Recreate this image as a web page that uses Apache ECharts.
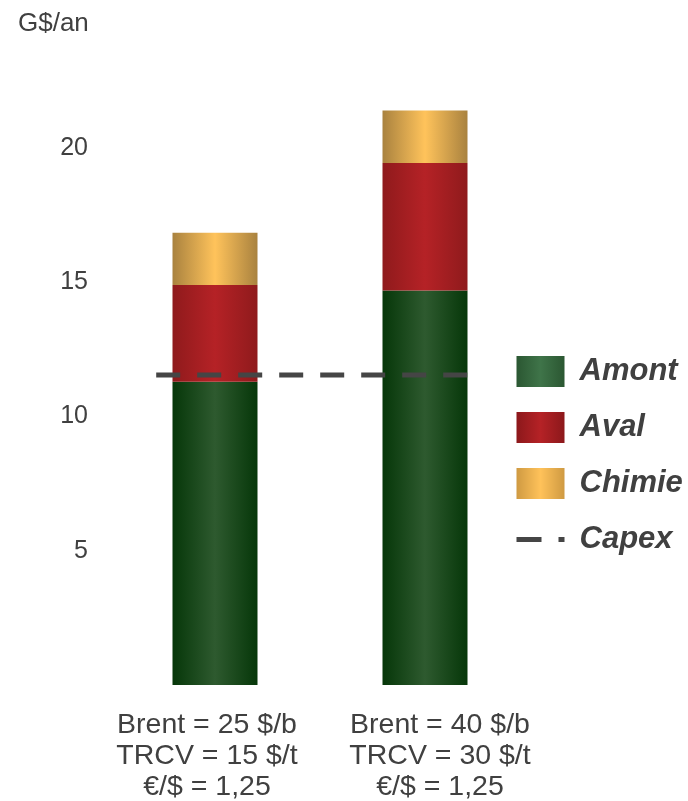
<!DOCTYPE html>
<html>
<head>
<meta charset="utf-8">
<script src="https://cdn.jsdelivr.net/npm/echarts@6/dist/echarts.min.js"></script>
<style>
  html, body { margin: 0; padding: 0; background: #fff; }
  #chart { width: 688px; height: 801px; }
</style>
</head>
<body>
<div id="chart"></div>
<script>
// données
var categories = ['Brent = 25 $/b\nTRCV = 15 $/t\n€/$ = 1,25', 'Brent = 40 $/b\nTRCV = 30 $/t\n€/$ = 1,25'];
var amont = [11.3, 14.7];
var aval = [3.6, 4.75];
var chimie = [1.95, 1.95];
var capex = 11.55;
var capexSpan = [-0.28, 1.21]; // étendue horizontale de la ligne Capex (en unités de catégorie)
var yTicks = [5, 10, 15, 20];

var font = 'Liberation Sans, Arial, sans-serif';
var txt = '#404040';
// décalage horizontal des libellés sous les barres (px)
var labelShift = [-8, 15];

function grad(edge, mid) {
    return new echarts.graphic.LinearGradient(0, 0, 1, 0, [
        { offset: 0, color: edge },
        { offset: 0.5, color: mid },
        { offset: 1, color: edge }
    ]);
}

var catData = categories.map(function (c, i) {
    var s = labelShift[i];
    return {
        value: c,
        textStyle: { padding: s > 0 ? [0, 0, 0, 2 * s] : [0, -2 * s, 0, 0] }
    };
});

var myChart = echarts.init(document.getElementById('chart'));
var option = {
    animation: false,
    textStyle: { fontFamily: font },
    grid: { left: 110, right: 158, top: 14, bottom: 116, outerBoundsMode: 'none', containLabel: false },
    graphic: [{
        type: 'text', left: 18, top: 11,
        style: { text: 'G$/an', font: '26px ' + font, fill: txt }
    }],
    legend: {
        orient: 'vertical',
        left: 514,
        top: 356,
        padding: 0,
        itemWidth: 48,
        itemHeight: 31,
        itemGap: 25,
        icon: 'rect',
        textStyle: { fontSize: 31, fontWeight: 'bold', fontStyle: 'italic', color: txt, padding: [0, 0, 0, 10] },
        data: [
            { name: 'Amont', itemStyle: { color: grad('#2b5732', '#3f7449') } },
            { name: 'Aval', itemStyle: { color: grad('#8c181b', '#b52226') } },
            { name: 'Chimie', itemStyle: { color: grad('#cf9a42', '#ffc25a') } },
            {
                name: 'Capex', icon: 'inherit',
                itemStyle: { opacity: 0 },
                lineStyle: { color: '#454545', width: 5, type: [25, 17] }
            }
        ]
    },
    xAxis: [
        {
            type: 'category',
            data: catData,
            axisLine: { show: false },
            axisTick: { show: false },
            axisLabel: { color: txt, fontSize: 28.5, lineHeight: 31, margin: 25, interval: 0, hideOverlap: false }
        },
        {
            type: 'value', min: -0.5, max: 1.5, show: false
        }
    ],
    yAxis: {
        type: 'value',
        min: 0,
        max: 25,
        interval: 5,
        splitLine: { show: false },
        axisLine: { show: false },
        axisTick: { show: false },
        axisLabel: {
            color: txt, fontSize: 25, margin: 22,
            formatter: function (v) { return yTicks.indexOf(v) >= 0 ? String(v) : ''; }
        }
    },
    series: [
        {
            name: 'Amont', type: 'bar', stack: 'total', barWidth: 85,
            itemStyle: { color: grad('#063709', '#2e5a2f') },
            data: amont
        },
        {
            name: 'Aval', type: 'bar', stack: 'total', barWidth: 85,
            itemStyle: { color: grad('#8f1a1c', '#b52226') },
            data: aval
        },
        {
            name: 'Chimie', type: 'bar', stack: 'total', barWidth: 85,
            itemStyle: { color: grad('#a9823f', '#ffc35b') },
            data: chimie
        },
        {
            name: 'Capex', type: 'line', xAxisIndex: 1, symbol: 'none',
            z: 5,
            lineStyle: { color: '#454545', width: 5, type: [24, 17] },
            itemStyle: { color: '#454545' },
            data: [[capexSpan[0], capex], [capexSpan[1], capex]]
        }
    ]
};
myChart.setOption(option);
window.addEventListener('resize', function () {
    myChart.resize();
});
</script>
</body>
</html>
